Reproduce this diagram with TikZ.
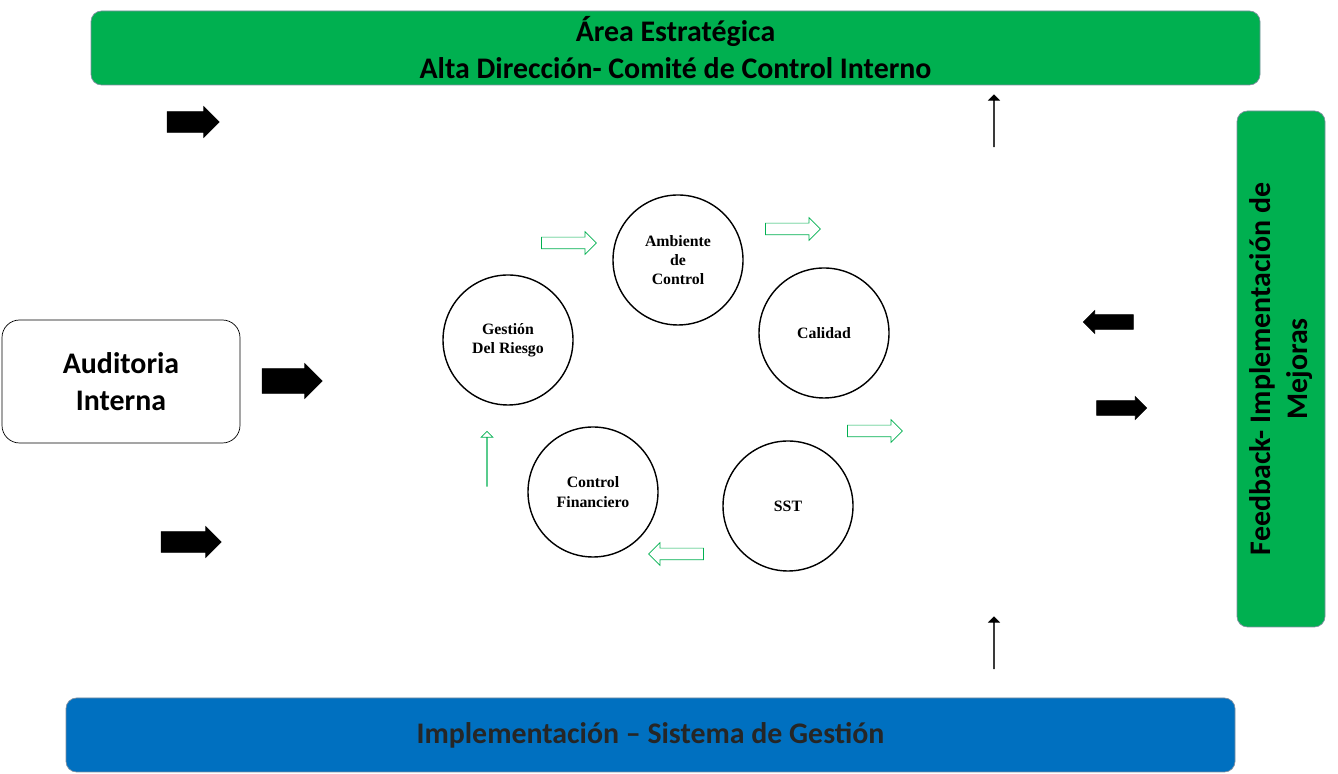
\documentclass[tikz,border=0pt]{standalone}
\usepackage{fontspec}
\setmainfont{Carlito}
\newfontfamily\serifbf{Liberation Serif}
\usetikzlibrary{shapes.arrows}
\definecolor{bargreen}{HTML}{00B050}
\definecolor{barblue}{HTML}{0070C0}
\definecolor{barline}{HTML}{7F8FA0}

\begin{document}
\begin{tikzpicture}
        %style
        \tikzset{bar/.style = {shape=rectangle, rounded corners=6pt, draw=barline, font=\fontsize{17}{21}\selectfont\bfseries, align=center}}
        \tikzset{station/.style = {shape=circle, draw, thick, minimum size=2.6cm, align=center, font=\serifbf\fontsize{9}{11}\selectfont\bfseries}}
        \tikzset{bigarrow/.style = {single arrow, fill=black, draw=black, inner xsep=0pt, inner ysep=0.2cm, minimum height=1.04cm, single arrow head extend=0.1cm}}
        \tikzset{smallarrow/.style = {single arrow, fill=black, draw=black, inner xsep=0pt, inner ysep=0.14cm, minimum height=1cm, single arrow head extend=0.08cm}}
        \tikzset{cyclearrow/.style = {single arrow, draw=bargreen, fill=white, inner xsep=0pt, inner ysep=0.11cm, minimum height=1.1cm, single arrow head extend=0.11cm}}
        \useasboundingbox (0,0) rectangle (26.76,15.48);
        \node[bar, fill=bargreen, minimum width=23.38cm, minimum height=1.48cm] (area) at (13.51,14.52) {Área Estratégica\\Alta Dirección- Comité de Control Interno};
        \node[bar, fill=barblue, minimum width=23.38cm, minimum height=1.48cm, text=black!85] (impl) at (13.01,0.78) {Implementación – Sistema de Gestión};
        \node[bar, fill=bargreen, minimum width=10.32cm, minimum height=1.76cm, rotate=90] (feedback) at (25.62,8.10) {Feedback- Implementación de\\Mejoras};
        \node[bar, draw=black, fill=white, rounded corners=10pt, minimum width=4.76cm, minimum height=2.46cm] (audit) at (2.42,7.85) {Auditoria\\Interna};
        % ciclo
        \node[station] (ambiente)   at (13.56,10.28) {Ambiente\\de\\Control};
        \node[station] (calidad)    at (16.48,8.82)  {Calidad};
        \node[station] (sst)        at (15.76,5.36)  {SST};
        \node[station] (financiero) at (11.86,5.64)  {Control\\Financiero};
        \node[station] (riesgo)     at (10.16,8.68)  {Gestión\\Del Riesgo};
        \node[cyclearrow, shape border rotate=35]   (c1) at (11.32,10.62) {};
        \node[cyclearrow, shape border rotate=-34]  (c2) at (15.80,10.90) {};
        \node[cyclearrow, shape border rotate=-112] (c3) at (17.44,6.86)  {};
        \node[cyclearrow, shape border rotate=180]  (c4) at (13.58,4.40)  {};
        \node[cyclearrow, shape border rotate=99]   (c5) at (9.74,6.30)   {};
        % flechas negras
        \node[bigarrow, shape border rotate=-90] (down1) at (3.76,13.04) {};
        \node[bigarrow, shape border rotate=90]  (up1)   at (19.88,13.06) {};
        \node[bigarrow, minimum height=1.2cm, inner ysep=0.24cm] (right1) at (5.72,7.86) {};
        \node[bigarrow, shape border rotate=-90, minimum height=1.2cm] (down2) at (3.72,4.64) {};
        \node[bigarrow, shape border rotate=90]  (up2)   at (19.88,2.62) {};
        \node[smallarrow, shape border rotate=180] (left3) at (22.24,9.04) {};
        \node[smallarrow] (right3) at (22.36,7.32) {};
\end{tikzpicture}
\end{document}
